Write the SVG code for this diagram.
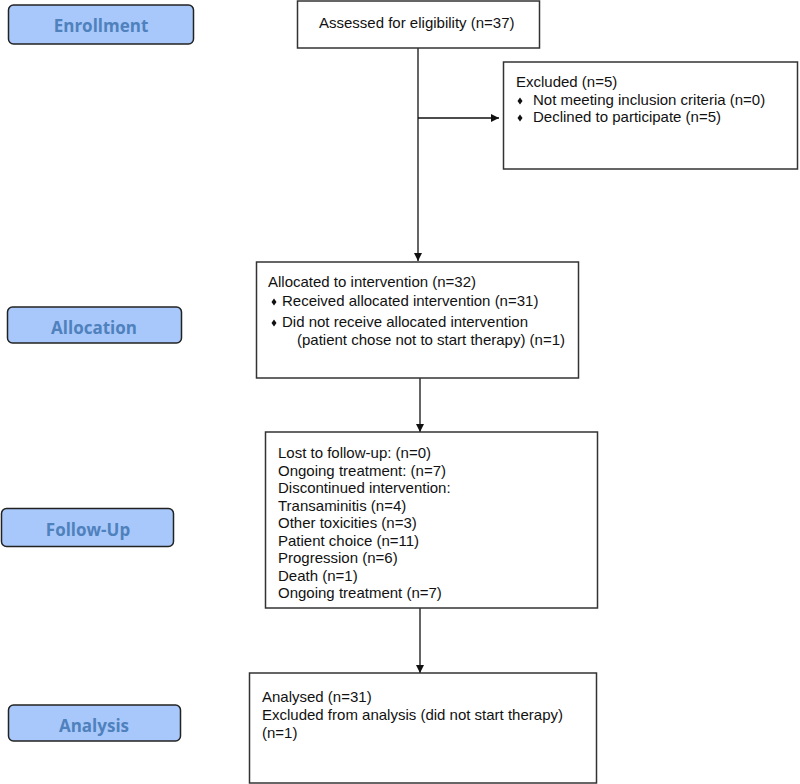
<svg xmlns="http://www.w3.org/2000/svg" width="800" height="784" viewBox="0 0 800 784">
<defs>
<style>
.lane rect{fill:#a8c8fb;stroke:#222;stroke-width:1.5}
.lane text{font-family:"Open Sans","Noto Sans",sans-serif;font-weight:bold;font-size:17px;fill:#4f81bd;text-anchor:middle}
.box rect{fill:#fff;stroke:#333;stroke-width:1.5}
.box text{font-family:"Liberation Sans",Arial,sans-serif;font-size:15px;fill:#111}
.conn line{stroke:#111;stroke-width:1.3;fill:none}
</style>
<marker id="ah" viewBox="0 0 10 10" refX="10" refY="5" markerWidth="9" markerHeight="8" markerUnits="userSpaceOnUse" orient="auto">
<path d="M0,0 L10,5 L0,10 z" fill="#111"/>
</marker>
<path id="dia" d="M0,-3.5 L2.5,0 L0,3.5 L-2.5,0 z" fill="#111"/>
</defs>
<rect width="800" height="784" fill="#fff"/>
<g id="lane-enrollment" class="lane"><rect x="8.5" y="5" width="185" height="39" rx="5"/><text x="101" y="32">Enrollment</text></g>
<g id="lane-allocation" class="lane"><rect x="7.5" y="307" width="174" height="36" rx="5"/><text x="94" y="334">Allocation</text></g>
<g id="lane-followup" class="lane"><rect x="1.5" y="508.5" width="172" height="38" rx="5"/><text x="88" y="536">Follow-Up</text></g>
<g id="lane-analysis" class="lane"><rect x="8.5" y="705" width="172" height="36" rx="5"/><text x="94" y="732">Analysis</text></g>

<g id="connectors" class="conn">
<line x1="418" y1="48" x2="418" y2="261" marker-end="url(#ah)"/>
<line x1="418" y1="118" x2="499" y2="118" marker-end="url(#ah)"/>
<line x1="420" y1="378" x2="420" y2="432" marker-end="url(#ah)"/>
<line x1="420" y1="608" x2="420" y2="673" marker-end="url(#ah)"/>
</g>

<g id="assessed" class="box"><rect x="297.5" y="1" width="242" height="47"/><text x="319" y="28">Assessed for eligibility (n=37)</text></g>
<g id="excluded" class="box"><rect x="503.5" y="62" width="294" height="107"/>
<text x="516" y="87">Excluded (n=5)</text>
<use href="#dia" x="520" y="101"/><text x="533" y="105">Not meeting inclusion criteria (n=0)</text>
<use href="#dia" x="520" y="118"/><text x="533" y="122">Declined to participate (n=5)</text>
</g>
<g id="allocated" class="box"><rect x="256.5" y="262" width="322" height="116"/>
<text x="268" y="287">Allocated to intervention (n=32)</text>
<use href="#dia" x="274" y="302"/><text x="282" y="306">Received allocated intervention (n=31)</text>
<use href="#dia" x="274" y="323"/><text x="282" y="327">Did not receive allocated intervention</text>
<text x="297" y="345">(patient chose not to start therapy) (n=1)</text>
</g>
<g id="followup" class="box"><rect x="265.5" y="432" width="332" height="176"/>
<text x="278" y="458">Lost to follow-up: (n=0)</text>
<text x="278" y="475.5">Ongoing treatment: (n=7)</text>
<text x="278" y="493">Discontinued intervention:</text>
<text x="278" y="510.5">Transaminitis (n=4)</text>
<text x="278" y="528">Other toxicities (n=3)</text>
<text x="278" y="545.5">Patient choice (n=11)</text>
<text x="278" y="563">Progression (n=6)</text>
<text x="278" y="580.5">Death (n=1)</text>
<text x="278" y="598">Ongoing treatment (n=7)</text>
</g>
<g id="analysed" class="box"><rect x="249.5" y="673" width="347" height="110"/>
<text x="262" y="702">Analysed (n=31)</text>
<text x="262" y="720">Excluded from analysis (did not start therapy)</text>
<text x="262" y="738">(n=1)</text>
</g>
</svg>
